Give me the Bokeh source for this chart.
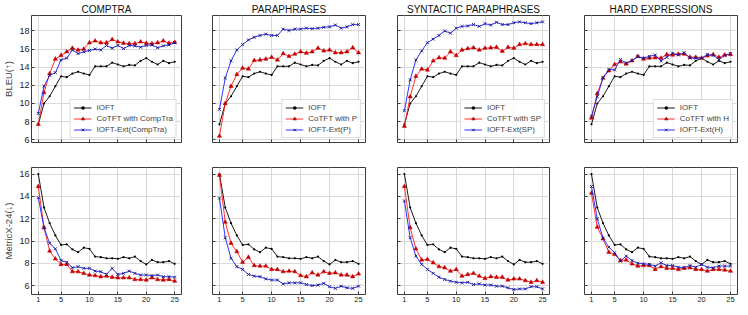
from bokeh.plotting import figure
from bokeh.layouts import column, row
from bokeh.models import FixedTicker, Range1d
from bokeh.embed import file_html
from bokeh.resources import INLINE

steps = list(range(1, 26))
titles = ["COMPTRA", "PARAPHRASES", "SYNTACTIC PARAPHRASES", "HARD EXPRESSIONS"]
ioft_label = "IOFT"
cotft_labels = ["CoTFT with CompTra", "CoTFT with P", "CoTFT with SP", "CoTFT with H"]
ext_labels = ["IOFT-Ext(CompTra)", "IOFT-Ext(P)", "IOFT-Ext(SP)", "IOFT-Ext(H)"]
x_ticks = [1, 5, 10, 15, 20, 25]
bleu_ticks = [6, 8, 10, 12, 14, 16, 18]
metricx_ticks = [6, 8, 10, 12, 14, 16]

# BLEU (top row)
ioft_bleu = [7.7, 10.0, 10.8, 11.9, 13.0, 12.9, 13.3, 13.5, 13.3, 13.15, 14.1, 14.1, 14.1,
             14.5, 14.3, 14.1, 14.25, 14.2, 14.7, 15.0, 14.6, 14.3, 14.7, 14.45, 14.6]
cotft_bleu_comptra = [7.7, 11.2, 13.3, 14.9, 15.3, 15.7, 16.1, 15.9, 16.0, 16.7, 16.9, 16.7, 16.7,
                      17.05, 16.8, 16.65, 16.6, 16.6, 16.8, 16.65, 16.6, 16.7, 16.9, 16.65, 16.75]
ext_bleu_comptra = [8.9, 11.9, 13.1, 13.4, 14.8, 15.0, 15.9, 15.5, 15.7, 15.85, 16.0, 15.9, 16.4,
                    16.1, 16.4, 16.05, 16.4, 16.35, 16.2, 16.4, 16.45, 16.15, 16.35, 16.45, 16.7]
cotft_bleu_p = [6.4, 10.0, 11.9, 13.2, 13.9, 13.8, 14.75, 14.8, 14.9, 15.1, 14.8, 15.5, 15.2,
                15.45, 15.7, 15.55, 15.7, 16.1, 15.8, 15.9, 15.6, 15.6, 15.7, 16.15, 15.6]
ext_bleu_p = [9.35, 12.8, 14.7, 15.9, 16.5, 17.0, 17.3, 17.5, 17.65, 17.5, 17.5, 18.2, 18.05,
              18.2, 18.2, 18.3, 18.25, 18.3, 18.4, 18.45, 18.65, 18.3, 18.45, 18.7, 18.7]
cotft_bleu_sp = [7.5, 10.75, 13.0, 13.8, 13.7, 14.7, 15.05, 15.0, 15.7, 15.3, 15.9, 16.05, 16.15,
                 15.9, 16.1, 16.15, 16.2, 15.75, 16.2, 16.1, 16.5, 16.6, 16.5, 16.5, 16.5]
ext_bleu_sp = [9.2, 12.6, 14.8, 15.8, 16.7, 17.1, 17.5, 18.0, 17.75, 18.3, 18.5, 18.55, 18.7,
               18.5, 18.8, 18.65, 18.95, 18.7, 18.7, 18.9, 19.0, 18.9, 18.8, 18.9, 19.0]
cotft_bleu_h = [8.4, 11.1, 12.8, 13.6, 14.3, 14.6, 14.35, 14.7, 15.2, 14.9, 15.0, 15.05, 15.0,
                15.4, 15.35, 15.45, 15.45, 15.1, 15.1, 15.0, 15.25, 15.4, 15.1, 15.35, 15.4]
ext_bleu_h = [8.6, 10.75, 12.85, 13.75, 13.7, 14.85, 14.45, 14.75, 15.15, 15.0, 15.2, 15.35, 14.7,
              15.1, 15.55, 15.35, 15.6, 15.0, 15.0, 15.0, 15.4, 15.3, 14.85, 15.3, 15.5]

# MetricX-24 (bottom row)
ioft_mx = [16.0, 13.0, 11.6, 10.5, 9.65, 9.7, 9.25, 9.0, 9.4, 9.3, 8.6, 8.55, 8.45,
           8.45, 8.4, 8.55, 8.45, 8.6, 8.2, 7.9, 8.3, 8.1, 8.1, 8.2, 7.95]
cotft_mx_comptra = [14.9, 11.2, 9.1, 8.4, 7.9, 7.9, 7.25, 7.25, 7.1, 6.95, 6.9, 6.8, 6.85,
                    6.75, 6.7, 6.7, 6.7, 6.55, 6.55, 6.5, 6.7, 6.55, 6.5, 6.55, 6.4]
ext_mx_comptra = [13.9, 11.2, 9.8, 9.3, 8.25, 8.1, 7.6, 7.7, 7.55, 7.55, 7.3, 7.25, 7.0,
                  7.55, 7.0, 7.1, 7.3, 7.1, 6.95, 6.95, 6.9, 6.95, 6.8, 6.8, 6.75]
cotft_mx_p = [15.9, 11.7, 9.8, 9.05, 8.1, 8.55, 7.8, 7.75, 7.75, 7.45, 7.45, 7.25, 7.3,
              7.25, 6.9, 6.8, 7.15, 6.95, 7.25, 7.1, 7.15, 6.95, 6.95, 6.8, 7.05]
ext_mx_p = [13.85, 10.3, 8.45, 7.7, 7.45, 7.0, 6.85, 6.8, 6.6, 6.5, 6.5, 6.15, 6.25,
            6.25, 6.25, 6.1, 6.0, 6.05, 6.2, 5.9, 5.75, 5.95, 5.8, 5.75, 5.95]
cotft_mx_sp = [14.9, 11.2, 9.3, 8.3, 8.35, 8.05, 7.7, 7.6, 7.3, 7.45, 6.85, 7.0, 7.1,
               6.85, 6.65, 6.8, 6.75, 6.75, 6.5, 6.6, 6.6, 6.45, 6.3, 6.45, 6.3]
ext_mx_sp = [13.6, 10.3, 8.65, 7.9, 7.45, 7.1, 6.75, 6.55, 6.4, 6.3, 6.25, 6.3, 6.1,
             6.15, 6.05, 6.05, 5.95, 5.95, 5.8, 5.65, 5.7, 5.7, 5.9, 5.9, 5.7]
cotft_mx_h = [14.3, 11.25, 10.2, 9.0, 8.8, 8.25, 8.3, 7.95, 7.75, 7.8, 7.8, 7.45, 7.7,
              7.55, 7.55, 7.45, 7.55, 7.6, 7.45, 7.45, 7.3, 7.45, 7.45, 7.4, 7.3]
ext_mx_h = [14.9, 12.0, 10.25, 9.45, 8.95, 8.2, 8.65, 8.25, 8.0, 7.95, 7.9, 7.75, 8.05,
            7.8, 7.8, 7.65, 7.6, 7.8, 7.65, 7.9, 7.65, 7.6, 7.75, 7.75, 7.75]

cotft_bleu = [cotft_bleu_comptra, cotft_bleu_p, cotft_bleu_sp, cotft_bleu_h]
ext_bleu = [ext_bleu_comptra, ext_bleu_p, ext_bleu_sp, ext_bleu_h]
cotft_mx = [cotft_mx_comptra, cotft_mx_p, cotft_mx_sp, cotft_mx_h]
ext_mx = [ext_mx_comptra, ext_mx_p, ext_mx_sp, ext_mx_h]

FONT = "Liberation Sans"
FRAME = "#3a3a3a"
GRID = "#d9d9d9"
BLACK = "#000000"
RED = "#ff1a1a"
RED_M = "#c00000"
BLUE = "#1a1aff"
BLUE_M = "#1a1a66"

frame_w = [150, 153, 152, 153]
left_b = [24, 16, 16, 17]
right_b = [15, 16, 18, 2]


def make_panel(i, top):
    if top:
        yr = Range1d(5.7, 19.7)
    else:
        yr = Range1d(5.2, 16.6)
    p = figure(frame_width=frame_w[i], frame_height=127, x_range=Range1d(-0.2, 26.2), y_range=yr,
               output_backend="svg", toolbar_location=None,
               min_border_left=left_b[i], min_border_right=right_b[i],
               min_border_top=0 if top else 13, min_border_bottom=12 if top else 10,
               title=titles[i] if top else None)
    p.background_fill_color = "white"
    p.border_fill_color = "white"
    p.outline_line_color = FRAME
    p.outline_line_width = 1
    if top:
        p.title.text_font = FONT
        p.title.text_font_size = "10px"
        p.title.text_font_style = "normal"
        p.title.align = "center"
        p.title.standoff = 2
        p.title.text_color = "#111111"
    p.grid.grid_line_color = GRID
    p.grid.grid_line_width = 1
    p.xaxis.ticker = FixedTicker(ticks=x_ticks)
    p.yaxis.ticker = FixedTicker(ticks=bleu_ticks if top else metricx_ticks)
    for ax in (p.xaxis, p.yaxis):
        ax.axis_line_color = None
        ax.major_tick_in = 3
        ax.major_tick_out = 0
        ax.major_tick_line_color = FRAME
        ax.minor_tick_line_color = None
        ax.major_label_text_font = FONT
        ax.major_label_text_color = "#222222"
        ax.major_label_standoff = 2
    p.xaxis.major_label_text_font_size = "7.5px"
    p.yaxis.major_label_text_font_size = "9px"
    if top:
        p.xaxis.major_label_overrides = {t: "" for t in x_ticks}
    if i > 0:
        p.yaxis.major_label_overrides = {t: "" for t in (bleu_ticks if top else metricx_ticks)}
    else:
        p.yaxis.axis_label = "BLEU(\u2191)" if top else "MetricX-24(\u2193)"
        p.yaxis.axis_label_text_font = FONT
        p.yaxis.axis_label_text_font_size = "9.5px"
        p.yaxis.axis_label_text_font_style = "normal"
        p.yaxis.axis_label_standoff = 2

    ys_ioft = ioft_bleu if top else ioft_mx
    ys_cot = cotft_bleu[i] if top else cotft_mx[i]
    ys_ext = ext_bleu[i] if top else ext_mx[i]

    kw = {"legend_label": ioft_label} if top else {}
    p.line(steps, ys_ioft, line_color=BLACK, line_width=0.9, **kw)
    p.scatter(steps, ys_ioft, marker="circle", size=2.2, fill_color=BLACK, line_color=None, **kw)
    kw = {"legend_label": cotft_labels[i]} if top else {}
    p.line(steps, ys_cot, line_color=RED, line_width=0.9, **kw)
    p.scatter(steps, ys_cot, marker="triangle", size=4.2, fill_color=RED_M, line_color=RED_M,
              line_width=0.5, **kw)
    kw = {"legend_label": ext_labels[i]} if top else {}
    p.line(steps, ys_ext, line_color=BLUE, line_width=0.9, **kw)
    p.scatter(steps, ys_ext, marker="x", size=4.2, line_color=BLUE_M, line_width=0.9, **kw)

    if top:
        lg = p.legend[0]
        lg.location = "bottom_right"
        lg.margin = 4
        lg.padding = 3
        lg.spacing = 2
        lg.label_text_font = FONT
        lg.label_text_font_size = "8px"
        lg.label_height = 9
        lg.glyph_height = 9
        lg.glyph_width = 18
        lg.label_standoff = 5
        lg.border_line_color = "#bbbbbb"
        lg.border_line_width = 1
        lg.background_fill_color = "white"
        lg.background_fill_alpha = 0.85
    return p


top_row = row(*[make_panel(i, True) for i in range(4)])
bottom_row = row(*[make_panel(i, False) for i in range(4)])
layout = column(top_row, bottom_row)

open("out.html", "w").write(file_html(layout, INLINE))
